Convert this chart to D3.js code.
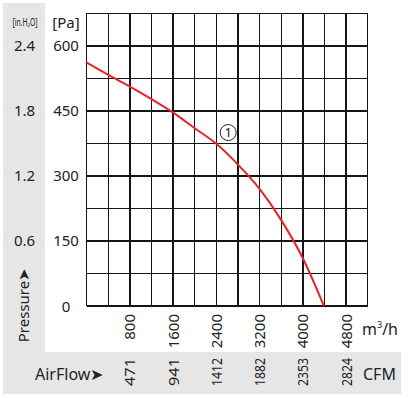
<!DOCTYPE html>
<html>
<head>
<meta charset="utf-8">
<script src="https://cdn.jsdelivr.net/npm/d3@7"></script>
<style>
  body { margin: 0; background: #fff; }
  svg { display: block; font-family: "Noto Sans", sans-serif; }
  text { fill: #222; }
</style>
</head>
<body>
<div id="chart"></div>
<script>
// Curve data (flow in m3/h, pressure in Pa)
const flow = [0, 400, 800, 1200, 1600, 2000, 2400, 2800, 3200, 3600, 4000, 4390];
const pressure = [561, 533, 506, 477, 446, 410, 374, 326, 270, 198, 110, 0];

// Tick labels
const paTicks = [0, 150, 300, 450, 600];
const inH2OLabels = ["", "0.6", "1.2", "1.8", "2.4"];
const flowTicks = [800, 1600, 2400, 3200, 4000, 4800];
const cfmLabels = ["471", "941", "1412", "1882", "2353", "2824"];

const W = 408, H = 398;
const plot = { left: 86.7, right: 367.7, top: 13.3, bottom: 306 };

const svg = d3.select("#chart")
  .append("svg")
    .attr("width", W)
    .attr("height", H);

// Scales
const x = d3.scaleLinear().domain([0, 5200]).range([plot.left, plot.right]);
const y = d3.scaleLinear().domain([0, 675]).range([plot.bottom, plot.top]);

// Gray bands
svg.append("rect")
  .attr("x", 3).attr("y", 3).attr("width", 42).attr("height", 349)
  .attr("fill", "#e6e6e6");
svg.append("rect")
  .attr("x", 3).attr("y", 352).attr("width", 398).attr("height", 42)
  .attr("fill", "#e6e6e6");

// Grid
const grid = svg.append("g")
  .attr("stroke", "#161616")
  .attr("stroke-width", 1.4)
  .attr("shape-rendering", "crispEdges");

grid.selectAll("line.v")
  .data(d3.range(0, 5201, 400))
  .enter().append("line")
    .attr("x1", d => x(d)).attr("x2", d => x(d))
    .attr("y1", y(675)).attr("y2", y(0));

grid.selectAll("line.h")
  .data(d3.range(0, 676, 75))
  .enter().append("line")
    .attr("x1", x(0)).attr("x2", x(5200))
    .attr("y1", d => y(d)).attr("y2", d => y(d));

// Curve
const line = d3.line()
  .x((d, i) => x(flow[i]))
  .y(d => y(d))
  .curve(d3.curveMonotoneX);

svg.append("path")
  .datum(pressure)
  .attr("d", line)
  .attr("fill", "none")
  .attr("stroke", "#ea2229")
  .attr("stroke-width", 2);

// Curve marker (1)
const mark = svg.append("g")
  .attr("transform", `translate(${x(2600) + 1},${y(400)})`);
mark.append("circle")
  .attr("r", 8)
  .attr("fill", "#fff")
  .attr("stroke", "#222")
  .attr("stroke-width", 1);
mark.append("text")
  .attr("text-anchor", "middle")
  .attr("y", 4.8)
  .style("font-size", "13px")
  .text("1");

// Y labels (Pa and inH2O)
svg.append("text")
  .attr("x", 66).attr("y", 28)
  .attr("text-anchor", "middle")
  .style("font-size", "15px")
  .text("[Pa]");

svg.append("text")
  .attr("x", 12.5).attr("y", 26)
  .attr("textLength", 25)
  .attr("lengthAdjust", "spacingAndGlyphs")
  .style("font-size", "10px")
  .text("[in.H\u2082O]");

svg.selectAll("text.pa")
  .data(paTicks)
  .enter().append("text")
    .attr("class", "pa")
    .attr("x", 66)
    .attr("y", d => y(d) + 5.5)
    .attr("text-anchor", "middle")
    .style("font-size", "15px")
    .text(d => d);

svg.selectAll("text.inh")
  .data(paTicks)
  .enter().append("text")
    .attr("class", "inh")
    .attr("x", 24.5)
    .attr("y", d => y(d) + 5.5)
    .attr("text-anchor", "middle")
    .style("font-size", "15px")
    .text((d, i) => inH2OLabels[i]);

svg.append("text")
  .attr("transform", "translate(29,305) rotate(-90)")
  .attr("text-anchor", "middle")
  .style("font-size", "15px")
  .text("Pressure\u27A4");

// X labels (m3/h and CFM)
svg.selectAll("text.flow")
  .data(flowTicks)
  .enter().append("text")
    .attr("class", "flow")
    .attr("transform", d => `translate(${x(d) + 5.5},314) rotate(-90)`)
    .attr("text-anchor", "end")
    .style("font-size", "15px")
    .text(d => d);

svg.selectAll("text.cfm")
  .data(flowTicks)
  .enter().append("text")
    .attr("class", "cfm")
    .attr("transform", d => `translate(${x(d) + 5.5},358) rotate(-90)`)
    .attr("text-anchor", "end")
    .attr("textLength", 28)
    .attr("lengthAdjust", "spacingAndGlyphs")
    .style("font-size", "15px")
    .text((d, i) => cfmLabels[i]);

const m3 = svg.append("text")
  .attr("x", 362).attr("y", 335)
  .style("font-size", "16px");
m3.append("tspan").text("m");
m3.append("tspan").attr("dy", -7).style("font-size", "9px").text("3");
m3.append("tspan").attr("dy", 7).text("/h");

svg.append("text")
  .attr("x", 363).attr("y", 380)
  .style("font-size", "16px")
  .text("CFM");

svg.append("text")
  .attr("x", 35).attr("y", 380)
  .style("font-size", "16px")
  .text("AirFlow\u27A4");
</script>
</body>
</html>
